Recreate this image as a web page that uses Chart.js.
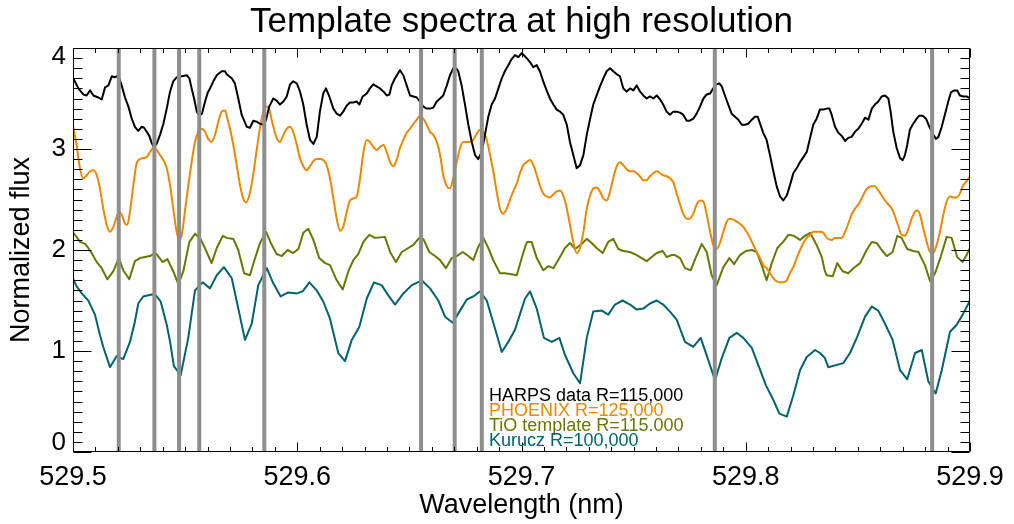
<!DOCTYPE html>
<html><head><meta charset="utf-8">
<script src="https://cdn.jsdelivr.net/npm/chart.js@4.4.0/dist/chart.umd.min.js"></script>
<style>html,body{margin:0;padding:0;background:#fff}canvas{display:block}</style>
</head><body>
<canvas id="c" width="1014" height="524"></canvas>
<script>
const FONT = '"Liberation Sans", Arial, Helvetica, sans-serif';
const chartTitle = 'Template spectra at high resolution';
const xTitle = 'Wavelength (nm)';
const yTitle = 'Normalized flux';
const X_MIN = 529.5, X_MAX = 529.9, Y_MIN = 0, Y_MAX = 4;
const xTickValues = [529.5, 529.6, 529.7, 529.8, 529.9];
const xTickLabels = ['529.5', '529.6', '529.7', '529.8', '529.9'];
const yTickValues = [0, 1, 2, 3, 4];
const yTickLabels = ['0', '1', '2', '3', '4'];
const xMinorStep = 0.01, yMinorStep = 0.1;
const seriesNames = ['HARPS data R=115,000', 'PHOENIX R=125,000', 'TiO template R=115.000', 'Kurucz R=100,000'];
const seriesColors = ['#000000', '#EE8800', '#687800', '#00636E'];
const markerColor = '#8E8E8E';
const markerWl = [529.5204, 529.5363, 529.5473, 529.5563, 529.5853, 529.6552, 529.6702, 529.6823, 529.7862, 529.8831];

const harpsWl = [529.5001,529.5024,529.5046,529.5061,529.5076,529.5091,529.5113,529.5128,529.5143,529.5158,529.5173,529.5187,529.5202,529.5217,529.5232,529.5247,529.5262,529.5276,529.5291,529.5306,529.5317,529.5329,529.5340,529.5351,529.5361,529.5373,529.5388,529.5403,529.5418,529.5433,529.5447,529.5462,529.5485,529.5507,529.5519,529.5529,529.5541,529.5552,529.5563,529.5575,529.5589,529.5601,529.5611,529.5626,529.5641,529.5663,529.5678,
529.5685,529.5708,529.5722,529.5737,529.5752,529.5775,529.5789,529.5804,529.5819,529.5834,529.5849,529.5861,529.5875,529.5893,529.5908,529.5923,529.5938,529.5953,529.5968,529.5982,529.5998,529.6012,529.6027,529.6042,529.6057,529.6072,529.6087,529.6101,529.6116,529.6128,529.6143,529.6161,529.6176,529.6191,529.6205,529.6221,529.6235,529.6250,529.6265,529.6277,529.6292,529.6310,529.6324,529.6339,
529.6354,529.6369,529.6384,529.6399,529.6411,529.6421,529.6436,529.6458,529.6473,529.6488,529.6503,529.6518,529.6533,529.6547,529.6562,529.6577,529.6592,529.6607,529.6622,529.6637,529.6651,529.6667,529.6681,529.6696,529.6708,529.6718,529.6733,529.6748,529.6763,529.6778,529.6793,529.6807,529.6823,529.6837,529.6852,529.6867,529.6882,529.6897,529.6912,529.6926,529.6941,529.6956,529.6971,529.6986,529.7001,
529.7023,529.7038,529.7053,529.7068,529.7082,529.7097,529.7112,529.7127,529.7142,529.7157,529.7172,529.7186,529.7202,529.7216,529.7231,529.7246,529.7261,529.7276,529.7291,529.7306,529.7320,529.7335,529.7350,529.7365,529.7380,529.7395,529.7409,529.7425,529.7439,529.7454,529.7469,529.7484,529.7499,529.7514,529.7528,529.7543,529.7558,529.7573,529.7588,529.7603,529.7618,529.7632,529.7647,529.7662,529.7677,
529.7692,529.7707,529.7721,529.7737,529.7751,529.7766,529.7781,529.7796,529.7811,529.7826,529.7841,529.7855,529.7870,529.7882,529.7893,529.7907,529.7922,529.7937,529.7952,529.7967,529.7982,529.7997,529.8011,529.8027,529.8041,529.8053,529.8064,529.8078,529.8093,529.8108,529.8123,529.8138,529.8153,529.8167,529.8183,529.8197,529.8212,529.8227,529.8242,529.8257,529.8272,529.8287,529.8301,529.8316,529.8331,529.8346,
529.8361,529.8373,529.8383,529.8398,529.8413,529.8428,529.8443,529.8457,529.8472,529.8487,529.8502,529.8517,529.8532,529.8547,529.8562,529.8576,529.8591,529.8606,529.8621,529.8636,529.8646,529.8658,529.8673,529.8688,529.8700,529.8710,529.8720,529.8732,529.8744,529.8759,529.8774,529.8789,529.8804,529.8819,529.8834,529.8848,529.8859,529.8874,529.8889,529.8903,529.8915,529.8930,529.8943,529.8955,529.8970,529.8985,529.9000];
const harpsFlux = [3.70,3.60,3.54,3.53,3.58,3.53,3.51,3.49,3.61,3.63,3.72,3.71,3.73,3.63,3.51,3.42,3.30,3.22,3.18,3.22,3.21,3.17,3.13,3.06,3.02,3.05,3.14,3.25,3.40,3.57,3.67,3.71,3.72,3.73,3.70,3.60,3.49,3.37,3.33,3.35,3.47,3.56,3.60,3.67,3.73,3.77,3.77,
3.74,3.70,3.65,3.50,3.34,3.22,3.21,3.28,3.27,3.25,3.24,3.29,3.42,3.50,3.48,3.44,3.47,3.52,3.64,3.67,3.65,3.57,3.44,3.24,3.09,3.05,3.12,3.37,3.55,3.60,3.52,3.40,3.35,3.33,3.37,3.43,3.46,3.46,3.47,3.44,3.52,3.55,3.60,3.64,
3.62,3.60,3.57,3.53,3.54,3.63,3.70,3.78,3.73,3.63,3.53,3.52,3.51,3.47,3.42,3.40,3.40,3.41,3.47,3.50,3.53,3.63,3.73,3.80,3.80,3.77,3.63,3.44,3.24,3.07,2.94,2.90,2.97,3.14,3.32,3.44,3.50,3.60,3.70,3.77,3.83,3.89,3.93,3.91,3.95,
3.90,3.86,3.81,3.83,3.77,3.67,3.58,3.50,3.44,3.39,3.37,3.34,3.24,3.07,2.94,2.81,2.84,2.94,3.14,3.30,3.44,3.53,3.62,3.70,3.77,3.80,3.77,3.74,3.72,3.60,3.57,3.60,3.58,3.63,3.57,3.53,3.50,3.52,3.50,3.53,3.49,3.44,3.37,3.34,3.37,
3.37,3.36,3.34,3.28,3.28,3.30,3.35,3.42,3.50,3.54,3.55,3.60,3.64,3.65,3.62,3.53,3.44,3.35,3.32,3.29,3.24,3.24,3.25,3.29,3.32,3.32,3.25,3.16,3.09,2.94,2.78,2.63,2.53,2.49,2.54,2.64,2.76,2.81,2.87,2.92,2.97,3.11,3.24,3.30,3.39,3.39,
3.40,3.40,3.34,3.22,3.16,3.13,3.08,3.11,3.12,3.17,3.20,3.25,3.31,3.29,3.40,3.44,3.47,3.52,3.53,3.50,3.37,3.17,3.01,2.91,2.89,2.94,3.04,3.19,3.24,3.29,3.33,3.33,3.30,3.22,3.15,3.10,3.12,3.22,3.35,3.47,3.56,3.58,3.58,3.53,3.52,3.52,3.50];

const phoenixWl = [529.5001,529.5016,529.5031,529.5046,529.5061,529.5076,529.5091,529.5106,529.5120,529.5135,529.5150,529.5165,529.5180,529.5195,529.5206,529.5217,529.5232,529.5242,529.5254,529.5269,529.5284,529.5299,529.5313,529.5329,529.5343,529.5358,529.5373,529.5388,529.5403,529.5418,529.5433,529.5447,529.5462,529.5474,529.5485,529.5499,529.5514,529.5529,529.5544,529.5559,529.5574,529.5589,529.5603,529.5618,529.5633,529.5648,529.5663,529.5678,
529.5685,529.5700,529.5715,529.5730,529.5745,529.5759,529.5771,529.5786,529.5801,529.5816,529.5831,529.5846,529.5861,529.5875,529.5891,529.5908,529.5923,529.5938,529.5953,529.5968,529.5982,529.5998,529.6012,529.6027,529.6042,529.6057,529.6072,529.6087,529.6101,529.6116,529.6131,529.6146,529.6161,529.6176,529.6191,529.6205,529.6221,529.6235,529.6250,529.6265,529.6280,529.6295,529.6310,529.6324,529.6339,
529.6354,529.6369,529.6384,529.6399,529.6414,529.6428,529.6443,529.6458,529.6473,529.6488,529.6503,529.6518,529.6533,529.6547,529.6562,529.6577,529.6592,529.6607,529.6622,529.6637,529.6651,529.6667,529.6681,529.6696,529.6711,529.6726,529.6740,529.6756,529.6770,529.6785,529.6800,529.6815,529.6830,529.6845,529.6860,529.6874,529.6889,529.6904,529.6919,529.6934,529.6949,529.6963,529.6979,529.6993,529.7008,
529.7023,529.7038,529.7053,529.7068,529.7082,529.7097,529.7112,529.7127,529.7142,529.7157,529.7172,529.7186,529.7202,529.7216,529.7231,529.7246,529.7261,529.7276,529.7291,529.7306,529.7320,529.7335,529.7350,529.7365,529.7380,529.7395,529.7409,529.7425,529.7439,529.7454,529.7469,529.7484,529.7499,529.7514,529.7528,529.7543,529.7558,529.7573,529.7588,529.7603,529.7618,529.7632,529.7647,529.7662,529.7677,
529.7692,529.7707,529.7721,529.7737,529.7751,529.7766,529.7781,529.7796,529.7811,529.7826,529.7841,529.7855,529.7870,529.7885,529.7900,529.7915,529.7930,529.7945,529.7960,529.7974,529.7989,529.8004,529.8019,529.8034,529.8049,529.8064,529.8078,529.8093,529.8108,529.8123,529.8138,529.8153,529.8167,529.8183,529.8197,529.8212,529.8227,529.8242,529.8257,529.8272,529.8287,529.8301,529.8316,529.8331,529.8346,
529.8361,529.8383,529.8398,529.8413,529.8428,529.8443,529.8457,529.8472,529.8487,529.8502,529.8517,529.8532,529.8547,529.8562,529.8576,529.8591,529.8606,529.8621,529.8636,529.8651,529.8666,529.8681,529.8695,529.8710,529.8725,529.8740,529.8755,529.8765,529.8777,529.8792,529.8807,529.8822,529.8836,529.8851,529.8866,529.8881,529.8896,529.8911,529.8926,529.8941,529.8955,529.8970,529.8985,529.9000];
const phoenixFlux = [3.22,3.04,2.81,2.71,2.74,2.78,2.79,2.74,2.61,2.41,2.25,2.18,2.23,2.33,2.38,2.35,2.26,2.25,2.38,2.64,2.86,2.90,2.91,2.92,2.97,3.01,2.99,2.94,2.89,2.81,2.64,2.41,2.18,2.10,2.15,2.38,2.64,2.87,3.07,3.17,3.20,3.17,3.10,3.07,3.14,3.27,3.37,3.38,
3.33,3.20,3.04,2.84,2.64,2.51,2.47,2.54,2.71,2.94,3.17,3.35,3.42,3.39,3.24,3.11,3.07,3.14,3.20,3.22,3.17,3.04,2.91,2.83,2.79,2.83,2.88,2.90,2.90,2.89,2.84,2.71,2.51,2.31,2.19,2.23,2.38,2.49,2.51,2.53,2.71,2.97,3.09,3.07,3.02,
2.99,3.02,3.04,2.97,2.87,2.83,2.89,3.01,3.09,3.16,3.20,3.25,3.29,3.33,3.30,3.24,3.17,3.14,3.07,2.94,2.74,2.63,2.61,2.71,2.87,3.01,3.07,3.07,3.07,3.09,3.15,3.19,3.17,3.09,2.94,2.78,2.58,2.41,2.36,2.41,2.50,2.58,2.66,2.76,2.84,
2.87,2.89,2.84,2.74,2.64,2.56,2.53,2.52,2.55,2.58,2.59,2.54,2.41,2.25,2.08,1.97,2.02,2.18,2.41,2.54,2.61,2.62,2.58,2.51,2.49,2.58,2.71,2.83,2.87,2.84,2.80,2.78,2.78,2.76,2.73,2.69,2.69,2.73,2.76,2.78,2.76,2.74,2.73,2.71,2.67,
2.56,2.45,2.36,2.31,2.31,2.36,2.45,2.49,2.48,2.35,2.18,2.05,2.01,2.07,2.18,2.28,2.31,2.30,2.28,2.26,2.23,2.18,2.12,2.05,1.98,1.92,1.85,1.82,1.77,1.72,1.69,1.68,1.68,1.70,1.77,1.83,1.92,2.00,2.07,2.12,2.15,2.18,2.18,2.18,2.17,
2.12,2.10,2.12,2.12,2.12,2.18,2.26,2.35,2.41,2.45,2.51,2.58,2.62,2.63,2.63,2.59,2.54,2.49,2.45,2.41,2.33,2.23,2.15,2.14,2.21,2.31,2.38,2.39,2.35,2.21,2.08,1.98,1.97,2.05,2.18,2.35,2.48,2.53,2.52,2.52,2.56,2.64,2.68,2.73];

const tioWl = [529.5001,529.5016,529.5031,529.5054,529.5068,529.5083,529.5106,529.5128,529.5153,529.5180,529.5204,529.5224,529.5251,529.5276,529.5299,529.5321,529.5343,529.5366,529.5376,529.5400,529.5421,529.5447,529.5470,529.5492,529.5519,529.5544,529.5569,529.5596,529.5618,529.5641,529.5668,
529.5685,529.5715,529.5737,529.5763,529.5789,529.5812,529.5834,529.5861,529.5882,529.5908,529.5931,529.5957,529.5982,529.6005,529.6027,529.6049,529.6072,529.6098,529.6124,529.6146,529.6176,529.6203,529.6228,529.6250,529.6272,529.6295,529.6321,
529.6347,529.6391,529.6414,529.6440,529.6466,529.6488,529.6518,529.6544,529.6562,529.6589,529.6614,529.6637,529.6663,529.6689,529.6711,529.6738,529.6763,529.6785,529.6807,529.6830,529.6852,529.6874,529.6904,529.6926,529.6956,529.6979,529.7001,529.7016,
529.7025,529.7045,529.7068,529.7097,529.7120,529.7142,529.7169,529.7194,529.7216,529.7239,529.7268,529.7291,529.7313,529.7335,529.7362,529.7387,529.7409,529.7432,529.7454,529.7484,529.7514,529.7536,529.7558,529.7581,529.7603,529.7630,529.7647,529.7670,
529.7684,529.7707,529.7729,529.7755,529.7778,529.7804,529.7826,529.7848,529.7870,529.7900,529.7927,529.7948,529.7974,529.8001,529.8027,529.8049,529.8071,529.8093,529.8116,529.8141,529.8167,529.8190,529.8215,529.8242,529.8264,529.8287,529.8316,529.8339,529.8353,
529.8361,529.8388,529.8408,529.8432,529.8457,529.8480,529.8510,529.8539,529.8562,529.8584,529.8606,529.8629,529.8655,529.8676,529.8695,529.8720,529.8747,529.8770,529.8799,529.8822,529.8844,529.8869,529.8896,529.8918,529.8943,529.8967,529.8985,529.9000];
const tioFlux = [2.17,2.13,2.08,2.06,2.02,1.97,1.88,1.82,1.71,1.79,1.92,1.80,1.71,1.89,1.92,1.93,1.94,1.97,1.95,1.88,1.91,1.79,1.66,1.79,2.08,2.16,2.11,1.98,1.87,2.02,2.14,
2.12,2.11,2.00,1.77,1.75,1.92,2.07,2.18,2.07,1.96,1.94,2.00,1.97,2.01,2.17,2.21,2.10,1.92,1.87,1.85,1.70,1.61,1.79,1.90,1.96,2.08,2.15,
2.12,2.13,1.98,1.88,1.98,2.01,2.05,2.12,2.11,1.98,1.94,1.90,1.82,1.92,1.94,1.98,1.94,1.90,2.03,2.12,2.02,1.90,1.77,1.77,1.76,1.75,1.92,2.03,
2.08,2.08,1.92,1.80,1.84,1.82,1.92,2.02,2.07,2.01,2.06,2.11,2.07,2.02,1.97,2.08,2.11,2.01,1.99,1.98,1.95,1.92,1.89,1.93,1.97,1.99,1.93,1.95,
1.95,1.92,1.82,1.80,1.93,2.06,1.98,1.75,1.65,1.83,1.92,1.86,1.95,1.99,2.00,1.98,1.85,1.70,1.87,2.02,2.08,2.15,2.14,2.10,2.14,2.17,2.05,1.93,1.79,
1.75,1.74,1.87,1.79,1.77,1.82,1.87,2.00,2.08,2.07,2.00,1.94,1.98,2.14,2.12,2.01,1.99,1.98,1.85,1.69,1.77,1.93,2.13,2.12,1.93,1.88,1.95,2.02];

const kuruczWl = [529.5001,529.5016,529.5039,529.5068,529.5098,529.5120,529.5135,529.5165,529.5195,529.5224,529.5254,529.5276,529.5291,529.5313,529.5351,529.5370,529.5391,529.5418,529.5433,529.5450,529.5480,529.5514,529.5544,529.5578,529.5611,529.5641,529.5673,
529.5708,529.5737,529.5767,529.5797,529.5826,529.5864,529.5893,529.5926,529.5960,529.5998,529.6024,529.6054,529.6087,529.6116,529.6146,529.6183,529.6213,529.6243,529.6277,529.6310,529.6342,
529.6377,529.6406,529.6436,529.6473,529.6510,529.6555,529.6592,529.6629,529.6659,529.6693,529.6723,529.6756,529.6785,529.6815,529.6845,529.6877,529.6912,529.6941,529.6971,529.7001,529.7016,
529.7038,529.7068,529.7100,529.7135,529.7169,529.7194,529.7231,529.7261,529.7291,529.7320,529.7358,529.7387,529.7417,529.7451,529.7484,529.7514,529.7543,529.7573,529.7603,529.7632,529.7662,
529.7692,529.7729,529.7766,529.7799,529.7833,529.7863,529.7893,529.7927,529.7960,529.7989,529.8027,529.8056,529.8090,529.8120,529.8150,529.8183,529.8212,529.8242,529.8272,529.8309,529.8331,529.8353,
529.8368,529.8435,529.8465,529.8495,529.8532,529.8562,529.8591,529.8621,529.8655,529.8688,529.8720,529.8755,529.8785,529.8814,529.8847,529.8874,529.8911,529.8941,529.8970,529.9000];
const kuruczFlux = [1.71,1.64,1.57,1.50,1.36,1.16,1.04,0.84,0.95,0.92,1.09,1.29,1.47,1.54,1.56,1.55,1.49,1.26,1.09,0.85,0.76,1.13,1.60,1.68,1.62,1.75,1.83,
1.72,1.42,1.11,1.27,1.65,1.82,1.67,1.54,1.58,1.57,1.59,1.68,1.60,1.49,1.32,0.98,0.90,1.11,1.24,1.52,1.68,
1.65,1.55,1.46,1.57,1.65,1.70,1.62,1.50,1.34,1.28,1.39,1.51,1.54,1.59,1.50,1.26,0.99,1.09,1.21,1.42,1.52,
1.59,1.42,1.13,1.09,1.13,0.96,0.78,0.68,1.13,1.39,1.40,1.36,1.46,1.50,1.46,1.41,1.42,1.47,1.50,1.46,1.39,
1.31,1.09,1.04,1.13,0.91,0.71,0.93,1.13,1.18,1.13,1.03,0.86,0.66,0.53,0.38,0.35,0.56,0.81,0.94,1.01,0.98,0.93,
0.84,0.88,0.98,1.13,1.34,1.44,1.40,1.27,1.11,0.81,0.72,0.98,1.01,0.70,0.58,0.81,1.19,1.26,1.37,1.50];

const toPoints = (xs, ys) => xs.map((x, i) => ({ x: x, y: ys[i] }));
const seriesData = [toPoints(harpsWl, harpsFlux), toPoints(phoenixWl, phoenixFlux), toPoints(tioWl, tioFlux), toPoints(kuruczWl, kuruczFlux)];

const datasets = [];
markerWl.forEach(w => datasets.push({
  label: '', data: [{ x: w, y: Y_MIN }, { x: w, y: Y_MAX }],
  borderColor: markerColor, borderWidth: 4, pointRadius: 0, order: 0
}));
seriesData.forEach((d, i) => datasets.push({
  label: seriesNames[i], data: d, borderColor: seriesColors[i], borderWidth: 2,
  pointRadius: 0, tension: 0, cubicInterpolationMode: i === 1 ? 'monotone' : 'default',
  borderJoinStyle: 'round', order: 1 + i
}));

const decorPlugin = {
  id: 'decor',
  afterDatasetsDraw(chart) {
    const { ctx, chartArea: a, scales: { x, y } } = chart;
    ctx.save();
    ctx.strokeStyle = '#000';
    ctx.lineWidth = 1;
    ctx.beginPath();
    const L = Math.round(a.left) + 0.5, R = Math.round(a.right) - 0.5;
    const T = Math.round(a.top) + 0.5, B = Math.round(a.bottom) - 0.5;
    ctx.rect(L, T, R - L, B - T);
    const nx = Math.round((X_MAX - X_MIN) / xMinorStep);
    for (let i = 0; i <= nx; i++) {
      const v = X_MIN + i * xMinorStep;
      const major = xTickValues.some(t => Math.abs(t - v) < 1e-6);
      const len = major ? 9 : 4.5;
      const px = Math.round(x.getPixelForValue(v)) + 0.5;
      ctx.moveTo(px, B); ctx.lineTo(px, B - len);
      ctx.moveTo(px, T); ctx.lineTo(px, T + len);
    }
    const ny = Math.round((Y_MAX - Y_MIN) / yMinorStep);
    for (let i = 0; i <= ny; i++) {
      const v = Y_MIN + i * yMinorStep;
      const major = yTickValues.some(t => Math.abs(t - v) < 1e-6);
      const len = major ? 18 : 9;
      const py = Math.round(y.getPixelForValue(v)) + 0.5;
      ctx.moveTo(L, py); ctx.lineTo(L + len, py);
      ctx.moveTo(R, py); ctx.lineTo(R - len, py);
    }
    ctx.stroke();

    // end labels of the y axis sit just inside the frame
    ctx.fillStyle = '#000';
    ctx.font = '26px ' + FONT;
    ctx.textAlign = 'right';
    ctx.textBaseline = 'middle';
    const lx = a.left - 7;
    ctx.fillText(yTickLabels[yTickLabels.length - 1], lx, y.getPixelForValue(Y_MAX) + 9);
    ctx.fillText(yTickLabels[0], lx, y.getPixelForValue(Y_MIN) - 9);

    // legend
    ctx.font = '18px ' + FONT;
    ctx.textAlign = 'left';
    ctx.textBaseline = 'alphabetic';
    seriesNames.forEach((name, i) => {
      ctx.fillStyle = seriesColors[i];
      ctx.fillText(name, a.left + 416, a.bottom - 51 + i * 15);
    });
    ctx.restore();
  }
};

Chart.defaults.font.family = FONT;
new Chart(document.getElementById('c').getContext('2d'), {
  type: 'line',
  data: { datasets: datasets },
  options: {
    responsive: false, animation: false, devicePixelRatio: 1, events: [],
    layout: { padding: { left: 0, right: 44, top: 0, bottom: 0 } },
    plugins: {
      legend: { display: false }, tooltip: { enabled: false },
      title: { display: true, fullSize: false, text: chartTitle, color: '#000', font: { family: FONT, size: 35, weight: 'normal' }, padding: { top: 1, bottom: 5 } }
    },
    scales: {
      x: {
        type: 'linear', min: X_MIN, max: X_MAX,
        afterBuildTicks: s => { s.ticks = xTickValues.map(v => ({ value: v })); },
        afterFit: s => { s.height = 72; },
        grid: { display: false, drawTicks: false }, border: { display: false },
        ticks: { color: '#000', font: { family: FONT, size: 27 }, padding: 9, maxRotation: 0, autoSkip: false,
          callback: (v, i) => xTickLabels[i] },
        title: { display: true, text: xTitle, color: '#000', font: { family: FONT, size: 27 }, padding: { top: 0, bottom: 2 } }
      },
      y: {
        type: 'linear', min: Y_MIN, max: Y_MAX,
        afterBuildTicks: s => { s.ticks = yTickValues.map(v => ({ value: v })); },
        afterFit: s => { s.width = 73; },
        grid: { display: false, drawTicks: false }, border: { display: false },
        ticks: { color: '#000', font: { family: FONT, size: 26 }, padding: 7,
          callback: (v, i) => (i === 0 || i === yTickValues.length - 1) ? '' : yTickLabels[i] },
        title: { display: true, text: yTitle, color: '#000', font: { family: FONT, size: 27 }, padding: { top: 5, bottom: 0 } }
      }
    }
  },
  plugins: [decorPlugin]
});
</script>
</body></html>
